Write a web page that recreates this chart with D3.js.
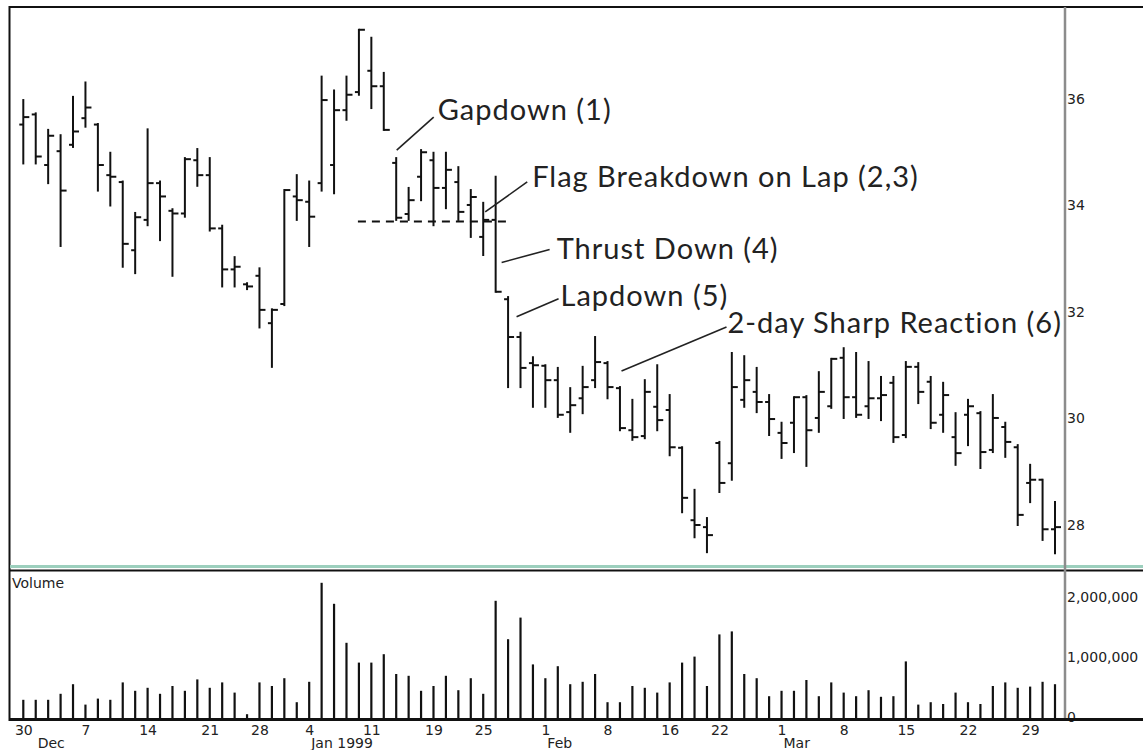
<!DOCTYPE html>
<html>
<head>
<meta charset="utf-8">
<script src="https://cdn.jsdelivr.net/npm/d3@7"></script>
<style>
  html, body { margin: 0; padding: 0; background: #fff; }
  svg { display: block; }
  .small { font-family: "DejaVu Sans", sans-serif; font-size: 14px; fill: #222; }
  .note { font-family: Lato, "Open Sans", sans-serif; font-size: 29px; letter-spacing: 1px; fill: #222; }
</style>
</head>
<body>
<svg id="chart" width="1143" height="750"></svg>
<script>
// Trading days, 30 Nov 1998 – 31 Mar 1999
const dates = [
  "1998-11-30","1998-12-01","1998-12-02","1998-12-03","1998-12-04",
  "1998-12-07","1998-12-08","1998-12-09","1998-12-10","1998-12-11",
  "1998-12-14","1998-12-15","1998-12-16","1998-12-17","1998-12-18",
  "1998-12-21","1998-12-22","1998-12-23","1998-12-24",
  "1998-12-28","1998-12-29","1998-12-30","1998-12-31",
  "1999-01-04","1999-01-05","1999-01-06","1999-01-07","1999-01-08",
  "1999-01-11","1999-01-12","1999-01-13","1999-01-14","1999-01-15",
  "1999-01-19","1999-01-20","1999-01-21","1999-01-22",
  "1999-01-25","1999-01-26","1999-01-27","1999-01-28","1999-01-29",
  "1999-02-01","1999-02-02","1999-02-03","1999-02-04","1999-02-05",
  "1999-02-08","1999-02-09","1999-02-10","1999-02-11","1999-02-12",
  "1999-02-16","1999-02-17","1999-02-18","1999-02-19",
  "1999-02-22","1999-02-23","1999-02-24","1999-02-25","1999-02-26",
  "1999-03-01","1999-03-02","1999-03-03","1999-03-04","1999-03-05",
  "1999-03-08","1999-03-09","1999-03-10","1999-03-11","1999-03-12",
  "1999-03-15","1999-03-16","1999-03-17","1999-03-18","1999-03-19",
  "1999-03-22","1999-03-23","1999-03-24","1999-03-25","1999-03-26",
  "1999-03-29","1999-03-30","1999-03-31"
];

const open = [
  35.52,35.71,34.76,35.02,35.14,35.64,35.52,34.57,34.44,33.16,
  33.73,34.42,33.90,33.85,34.85,34.57,33.57,32.80,32.52,32.68,
  31.79,32.15,34.17,34.07,34.42,34.76,35.79,36.13,36.53,36.24,
  34.80,33.84,34.54,34.85,34.33,34.44,34.01,33.41,33.73,32.24,
  31.53,31.04,30.99,30.72,30.12,30.38,30.72,31.04,30.57,29.78,
  29.67,30.22,30.16,29.45,28.09,27.96,29.54,29.16,30.35,30.50,
  30.31,29.73,29.92,30.40,30.01,30.23,31.14,30.40,30.23,30.38,
  30.67,29.69,30.97,30.69,30.07,29.65,30.07,30.10,29.41,29.84,
  29.46,28.79,28.85,27.92
];
const high = [
  35.98,35.73,35.42,35.32,36.04,36.31,35.53,34.99,34.45,33.86,
  35.43,34.45,33.93,34.89,35.06,34.89,33.62,33.03,32.54,32.82,
  32.05,34.29,34.57,34.45,36.42,36.16,36.42,37.30,37.15,36.49,
  34.89,34.33,35.04,34.99,34.99,34.72,34.29,34.05,34.54,32.28,
  31.61,31.15,31.00,30.95,30.57,30.97,31.53,31.06,30.59,30.35,
  30.72,31.00,30.44,29.46,28.66,28.13,29.56,31.23,31.17,30.95,
  30.44,29.92,30.40,30.42,30.87,31.12,31.32,31.23,31.06,30.78,
  30.78,31.06,31.04,30.78,30.67,30.10,30.35,30.12,30.44,29.92,
  29.50,29.13,28.85,28.43
];
const low = [
  34.79,34.79,34.42,33.24,35.10,35.48,34.28,34.00,32.85,32.73,
  33.63,33.35,32.68,33.79,34.37,33.53,32.48,32.48,32.43,31.71,
  30.97,32.13,33.73,33.24,34.28,34.23,35.61,36.08,35.83,35.42,
  33.73,33.73,34.10,33.63,33.95,33.73,33.41,33.07,32.38,30.59,
  30.59,30.22,30.22,30.03,29.75,30.10,30.59,30.38,29.78,29.60,
  29.63,29.78,29.31,28.24,27.77,27.49,28.62,28.85,30.22,30.12,
  29.69,29.26,29.37,29.11,29.75,30.20,30.01,30.03,30.01,29.97,
  29.56,29.65,30.29,29.82,29.75,29.13,29.50,29.07,29.37,29.28,
  28.00,28.43,27.72,27.47
];
const close = [
  35.66,34.92,35.31,34.28,35.39,35.84,34.76,34.54,33.28,33.78,
  34.42,34.17,33.85,34.87,34.57,33.57,32.80,32.85,32.48,32.04,
  32.04,34.29,34.10,33.79,35.98,35.79,36.08,37.30,36.24,35.42,
  33.77,34.10,35.00,34.33,34.67,33.88,34.16,33.73,32.38,31.53,
  30.95,31.00,30.72,30.07,30.25,30.59,31.06,30.59,29.82,29.65,
  30.50,29.97,29.46,28.51,28.00,27.81,28.79,30.59,30.72,30.31,
  29.99,29.54,30.40,29.78,30.50,31.12,30.40,30.07,30.38,30.44,
  29.65,30.97,30.50,29.92,30.44,29.35,30.23,29.37,30.01,29.56,
  28.19,28.85,27.92,27.96
];
const volume = [
  320000,320000,320000,420000,580000,240000,340000,320000,610000,470000,
  520000,420000,550000,470000,660000,520000,610000,440000,80000,610000,
  550000,680000,280000,620000,2270000,1920000,1270000,940000,940000,1080000,
  750000,720000,470000,550000,720000,480000,680000,420000,1970000,1330000,
  1690000,910000,680000,880000,580000,620000,750000,280000,280000,550000,
  520000,440000,610000,940000,1040000,550000,1410000,1460000,750000,680000,
  380000,470000,470000,650000,380000,610000,440000,380000,480000,370000,
  380000,960000,240000,280000,250000,440000,280000,250000,550000,610000,
  520000,540000,620000,580000
];

const priceTicks = [28, 30, 32, 34, 36];
const volumeTicks = [0, 1000000, 2000000];
const weekTicks = [
  "1998-11-30","1998-12-07","1998-12-14","1998-12-21","1998-12-28",
  "1999-01-04","1999-01-11","1999-01-19","1999-01-25","1999-02-01",
  "1999-02-08","1999-02-16","1999-02-22","1999-03-01","1999-03-08",
  "1999-03-15","1999-03-22","1999-03-29"
];
const monthTicks = ["1998-12-01","1999-01-04","1999-02-01","1999-03-01"];
const monthLabels = ["Dec", "Jan 1999", "Feb", "Mar"];

// Flag support level
const support = { price: 33.70, from: "1999-01-08", to: "1999-01-27" };

// Callouts: anchor bar + price, then leader-line end and label offsets (px)
const notes = [
  { text: "Gapdown (1)",                 date: "1999-01-13", price: 35.04, sx: 0.5, ex: 37,  ey: -33, tx: 41,  ty: -30 },
  { text: "Flag Breakdown on Lap (2,3)", date: "1999-01-25", price: 33.88, sx: 2,   ex: 42,  ey: -30, tx: 47,  ty: -25 },
  { text: "Thrust Down (4)",             date: "1999-01-26", price: 32.93, sx: 6,   ex: 48,  ey: -13, tx: 55,  ty: -3 },
  { text: "Lapdown (5)",                 date: "1999-01-27", price: 31.91, sx: 8.5, ex: 42,  ey: -18, tx: 44,  ty: -11 },
  { text: "2-day Sharp Reaction (6)",    date: "1999-02-08", price: 30.89, sx: 14,  ex: 105, ey: -44, tx: 106, ty: -38 }
];

const parse = d3.timeParse("%Y-%m-%d");
const W = 1143;
const axisX = 1065;

const svg = d3.select("#chart");

const x = d3.scalePoint().domain(dates).range([23.3, 1055]);
const yP = d3.scaleLinear().domain([28, 36]).range([525, 99]);
const yV = d3.scaleLinear().domain([0, 2000000]).range([719, 599]);

const bars = dates.map((d, i) => ({ d, o: open[i], h: high[i], l: low[i], c: close[i], v: volume[i] }));

// ---- frame ----
const frame = svg.append("g");
frame.append("line").attr("x1", 9).attr("x2", W).attr("y1", 7).attr("y2", 7)
  .attr("stroke", "#111").attr("stroke-width", 2);
frame.append("line").attr("x1", 9.5).attr("x2", 9.5).attr("y1", 6).attr("y2", 721)
  .attr("stroke", "#111").attr("stroke-width", 2);
frame.append("line").attr("x1", 10).attr("x2", W).attr("y1", 566.5).attr("y2", 566.5)
  .attr("stroke", "#9ccfbd").attr("stroke-width", 3);
frame.append("line").attr("x1", 10).attr("x2", W).attr("y1", 570.5).attr("y2", 570.5)
  .attr("stroke", "#111").attr("stroke-width", 2);
frame.append("line").attr("x1", axisX).attr("x2", axisX).attr("y1", 7).attr("y2", 719)
  .attr("stroke", "#8c8c8c").attr("stroke-width", 2.5);

// ---- price bars ----
const ohlc = svg.append("g").attr("stroke", "#111").attr("stroke-width", 2);
const bg = ohlc.selectAll("g.bar").data(bars).join("g").attr("class", "bar");
bg.append("line")
  .attr("x1", b => x(b.d)).attr("x2", b => x(b.d))
  .attr("y1", b => yP(b.h) - 1).attr("y2", b => yP(b.l) + 1);
bg.append("line")
  .attr("x1", b => x(b.d) - 4).attr("x2", b => x(b.d))
  .attr("y1", b => yP(b.o)).attr("y2", b => yP(b.o));
bg.append("line")
  .attr("x1", b => x(b.d)).attr("x2", b => x(b.d) + 6)
  .attr("y1", b => yP(b.c)).attr("y2", b => yP(b.c));

// ---- support line ----
svg.append("line")
  .attr("x1", x(support.from) - 1).attr("x2", x(support.to) + 3.5)
  .attr("y1", yP(support.price)).attr("y2", yP(support.price))
  .attr("stroke", "#111").attr("stroke-width", 2).attr("stroke-dasharray", "8,6");

// ---- callouts ----
const ng = svg.append("g");
notes.forEach(n => {
  const x0 = x(n.date) + n.sx, y0 = yP(n.price);
  ng.append("line").attr("x1", x0).attr("y1", y0).attr("x2", x0 + n.ex).attr("y2", y0 + n.ey)
    .attr("stroke", "#222").attr("stroke-width", 1.6);
  ng.append("text").attr("class", "note").attr("x", x0 + n.tx).attr("y", y0 + n.ty).text(n.text);
});

// ---- price axis ----
const pAxis = svg.append("g").attr("transform", `translate(${axisX},0)`)
  .call(d3.axisRight(yP).tickValues(priceTicks).tickSize(0).tickPadding(2).tickFormat(d3.format("d")));
pAxis.select(".domain").remove();
pAxis.selectAll("text").attr("class", "small").attr("font-family", null).attr("font-size", null).attr("fill", null);

// ---- volume ----
svg.append("text").attr("class", "small").attr("x", 12).attr("y", 588).text("Volume");

const vAxis = svg.append("g").attr("transform", `translate(${axisX},-2)`)
  .call(d3.axisRight(yV).tickValues(volumeTicks).tickSize(0).tickPadding(2).tickFormat(d3.format(",")));
vAxis.select(".domain").remove();
vAxis.selectAll("text").attr("class", "small").attr("font-family", null).attr("font-size", null).attr("fill", null);

svg.append("g").attr("stroke", "#111").attr("stroke-width", 2.2)
  .selectAll("line").data(bars).join("line")
  .attr("x1", b => x(b.d)).attr("x2", b => x(b.d))
  .attr("y1", b => yV(b.v)).attr("y2", yV(0));

// baseline
svg.append("line").attr("x1", 9).attr("x2", W).attr("y1", 719.5).attr("y2", 719.5)
  .attr("stroke", "#111").attr("stroke-width", 3);

// ---- date axis ----
const xAxis = svg.append("g").attr("transform", "translate(0,719)")
  .call(d3.axisBottom(x).tickValues(weekTicks).tickSize(0).tickPadding(6)
    .tickFormat(d => parse(d).getDate()));
xAxis.select(".domain").remove();
xAxis.selectAll("text").attr("class", "small").attr("font-family", null).attr("font-size", null).attr("fill", null);

const mAxis = svg.append("g").attr("transform", "translate(0,738)")
  .call(d3.axisBottom(x).tickValues(monthTicks).tickSize(0).tickPadding(0)
    .tickFormat((d, i) => monthLabels[i]));
mAxis.select(".domain").remove();
mAxis.selectAll("text").attr("class", "small").attr("font-family", null).attr("font-size", null).attr("fill", null)
  .attr("text-anchor", "start").attr("dx", 1.5);
</script>
</body>
</html>
